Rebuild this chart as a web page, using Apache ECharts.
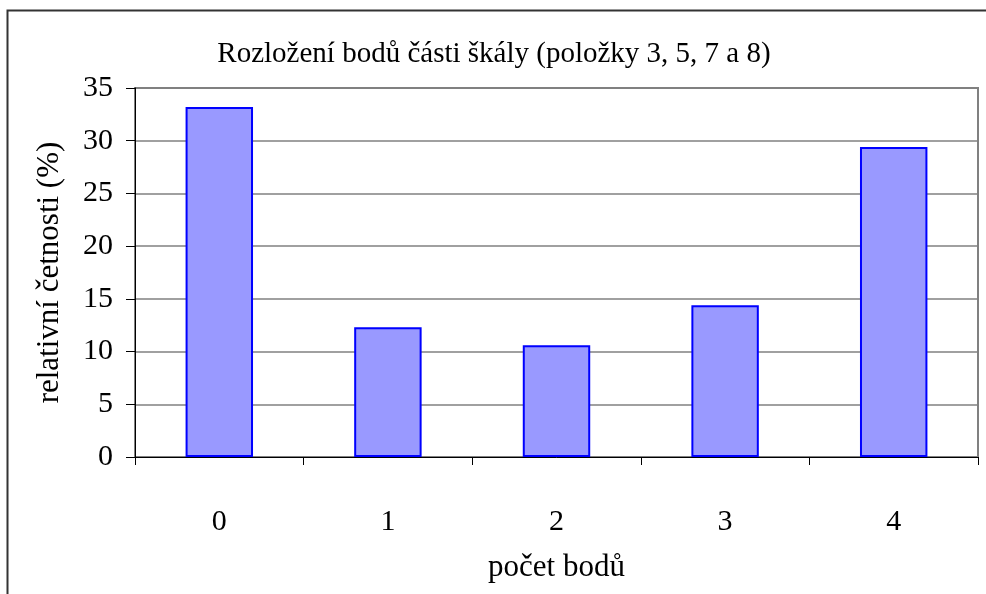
<!DOCTYPE html>
<html>
<head>
<meta charset="utf-8">
<script src="https://cdn.jsdelivr.net/npm/echarts@6/dist/echarts.min.js"></script>
<style>html,body{margin:0;padding:0;background:#fff}#c{width:986px;height:594px}</style>
</head>
<body>
<div id="c"></div>
<script>
const categories = ['0', '1', '2', '3', '4'];
const values = [33.2, 12.3, 10.6, 14.4, 29.4];
const titleText = 'Rozložení bodů části škály (položky 3, 5, 7 a 8)';
const yName = 'relativní četnosti (%)';
const xName = 'počet bodů';

const font = '"Liberation Serif", "Times New Roman", serif';
const chart = echarts.init(document.getElementById('c'), null, {renderer: 'canvas'});
chart.setOption({
  animation: false,
  backgroundColor: '#fff',
  graphic: [{
    type: 'polyline', shape: {points: [[7.5, 600], [7.5, 10.5], [995, 10.5]]},
    style: {fill: null, stroke: '#333', lineWidth: 2}, z: 100
  }],
  title: {
    text: titleText, left: 489, top: 35, textAlign: 'center',
    textStyle: {fontFamily: font, fontSize: 29, fontWeight: 'normal', color: '#000'}
  },
  grid: {left: 135, right: 8, top: 88, bottom: 137, show: true, borderColor: '#808080', borderWidth: 2, backgroundColor: 'transparent'},
  xAxis: {
    type: 'category', data: categories,
    name: xName, nameLocation: 'middle', nameGap: 95,
    nameTextStyle: {fontFamily: font, fontSize: 31, color: '#000'},
    axisLine: {lineStyle: {color: '#000', width: 1}},
    axisTick: {show: true, length: 8, lineStyle: {color: '#000'}},
    axisLabel: {fontFamily: font, fontSize: 30, color: '#000', margin: 50}
  },
  yAxis: {
    type: 'value', min: 0, max: 35, interval: 5,
    name: yName, nameLocation: 'middle', nameGap: 70, nameRotate: 90,
    nameTextStyle: {fontFamily: font, fontSize: 31, color: '#000'},
    axisLine: {show: true, lineStyle: {color: '#000', width: 1}},
    axisTick: {show: true, length: 9, lineStyle: {color: '#000'}},
    axisLabel: {fontFamily: font, fontSize: 30, color: '#000', margin: 22},
    splitLine: {show: true, lineStyle: {color: '#808080', width: 1.5}}
  },
  series: [{
    type: 'bar', data: values, barWidth: '40%',
    itemStyle: {color: '#9999FF', borderColor: '#0000FF', borderWidth: 2}
  }]
});
</script>
</body>
</html>
